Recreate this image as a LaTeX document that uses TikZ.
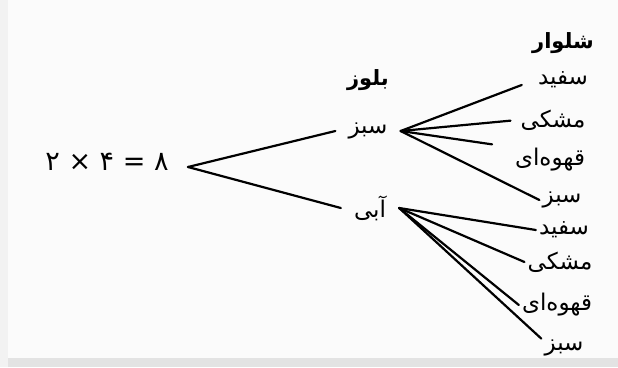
\documentclass[tikz,border=0pt]{standalone}
\usepackage{fontspec}
\newfontfamily\arabicfont[Script=Arabic]{DejaVu Sans}
\TeXXeTstate=1
\newcommand{\fa}[1]{\beginR #1\endR}

\begin{document}
\begin{tikzpicture}[
            x=1pt, y=-1pt,
            word/.style={font=\arabicfont\fontsize{23}{26}\selectfont, inner xsep=3pt, inner ysep=1pt},
            head/.style={word, font=\arabicfont\bfseries\fontsize{21}{24}\selectfont},
            mid/.style={word, inner xsep=13pt},
            branch/.style={line width=2.2pt, line cap=round}
        ]
        % Paper
        \fill[gray!3] (0,0) rectangle (618,367);
        \fill[gray!22] (0,358) rectangle (618,367);
        \fill[gray!10] (0,0) rectangle (8,367);

        % Product
        \node[font=\arabicfont\fontsize{27}{30}\selectfont] (prod) at (107,162) {\fa{۸ = ۴ × ۲}};
        \coordinate (root) at (188,167);

        % Blouse
        \node[head] (bluz) at (368,80) {\fa{بلوز}}; \node[mid] (bsabz) at (368,131) {\fa{سبز}}; \node[mid] (babi) at (370,208) {\fa{آبی}};

        % Trousers
        \node[head] (shalvar) at (563,43) {\fa{شلوار}};
        \node[word] (sefidA) at (563,80) {\fa{سفید}}; \node[word] (meshkiA) at (553,120) {\fa{مشکی}}; \node[word] (qahveA) at (550,160) {\fa{قهوه‌ای}}; \node[word] (sabzA) at (562,200) {\fa{سبز}};
        \node[word] (sefidB) at (564,230) {\fa{سفید}}; \node[word] (meshkiB) at (560,262) {\fa{مشکی}}; \node[word] (qahveB) at (557,305) {\fa{قهوه‌ای}}; \node[word] (sabzB) at (564,348) {\fa{سبز}};

        % Branches
        \draw[branch] (root) -- (bsabz.west); \draw[branch] (root) -- (babi.west);
        \draw[branch, shorten >=14pt] (bsabz.east) -- (sefidA.west);
        \draw[branch, shorten >=7pt] (bsabz.east) -- (meshkiA.west);
        \draw[branch, shorten >=20pt] (bsabz.east) -- (qahveA.north west);
        \draw[branch] (bsabz.east) -- (sabzA.west);
        \draw[branch] (babi.east) -- (sefidB.west); \draw[branch] (babi.east) -- (meshkiB.west); \draw[branch] (babi.east) -- (qahveB.west); \draw[branch] (babi.east) -- (sabzB.north west);

    \end{tikzpicture}
\end{document}
